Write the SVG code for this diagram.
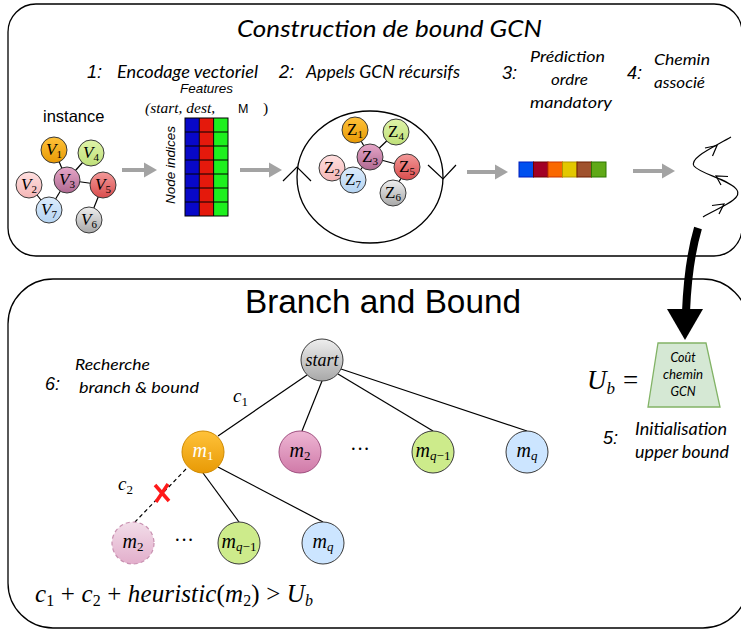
<svg xmlns="http://www.w3.org/2000/svg" width="741" height="630" viewBox="0 0 741 630">
<style>
.box{fill:#fff;stroke:#000;stroke-width:1.3}
.cal{font-family:Lato,"Open Sans",sans-serif;font-style:italic;fill:#000}
.num{font-family:"Liberation Sans",Arial,sans-serif;font-style:italic;fill:#000}
.ser{font-family:"Liberation Serif","Times New Roman",serif;fill:#000}
.it{font-style:italic}
.nd{stroke:#3a3a3a;stroke-width:1}
.e{stroke:#000;stroke-width:1.2;fill:none}
.ga{stroke:#a3a3a3;stroke-width:4;fill:none}
.gh{fill:#a3a3a3}
.chev{stroke:#000;stroke-width:1.2;fill:none}
.cell{stroke:#000;stroke-width:1}
</style>
<defs>
<linearGradient id="gO" x1="0" y1="0" x2="0" y2="1"><stop offset="0" stop-color="#ffc23a"/><stop offset="1" stop-color="#e89a05"/></linearGradient>
<linearGradient id="gG" x1="0" y1="0" x2="0" y2="1"><stop offset="0" stop-color="#dff3a8"/><stop offset="1" stop-color="#bfe07a"/></linearGradient>
<linearGradient id="gP" x1="0" y1="0" x2="0" y2="1"><stop offset="0" stop-color="#e6a6c8"/><stop offset="1" stop-color="#b06a92"/></linearGradient>
<linearGradient id="gK" x1="0" y1="0" x2="0" y2="1"><stop offset="0" stop-color="#ffe0e0"/><stop offset="1" stop-color="#f4b6b6"/></linearGradient>
<linearGradient id="gR" x1="0" y1="0" x2="0" y2="1"><stop offset="0" stop-color="#f39a9a"/><stop offset="1" stop-color="#d94c4c"/></linearGradient>
<linearGradient id="gB" x1="0" y1="0" x2="0" y2="1"><stop offset="0" stop-color="#dcecfc"/><stop offset="1" stop-color="#b5d4f2"/></linearGradient>
<linearGradient id="gY" x1="0" y1="0" x2="0" y2="1"><stop offset="0" stop-color="#eeeeee"/><stop offset="1" stop-color="#a8a8a8"/></linearGradient>
<linearGradient id="gM" x1="0" y1="0" x2="0" y2="1"><stop offset="0" stop-color="#eeb6d4"/><stop offset="1" stop-color="#d07aa8"/></linearGradient>
<linearGradient id="gD" x1="0" y1="0" x2="0" y2="1"><stop offset="0" stop-color="#f2dde9"/><stop offset="1" stop-color="#e2aecb"/></linearGradient>
</defs>

<g id="frames">
<rect class="box" x="8" y="4" width="734" height="252" rx="28"/>
<rect class="box" x="8" y="279" width="740" height="349" rx="45"/>
</g>

<g id="titles">
<text class="cal" x="237" y="37" font-size="24" textLength="305" lengthAdjust="spacingAndGlyphs">Construction de bound GCN</text>
<text x="245" y="313" font-family="Liberation Sans,Arial,sans-serif" font-size="33" textLength="276" lengthAdjust="spacingAndGlyphs">Branch and Bound</text>
</g>

<g id="step-labels">
<text class="num" x="87" y="78" font-size="18">1:</text>
<text class="cal" x="117" y="78" font-size="17" textLength="141" lengthAdjust="spacingAndGlyphs">Encodage vectoriel</text>
<text class="num" x="279" y="78" font-size="18">2:</text>
<text class="cal" x="306" y="78" font-size="17" textLength="154" lengthAdjust="spacingAndGlyphs">Appels GCN récursifs</text>
<text class="num" x="502" y="79" font-size="18">3:</text>
<text class="cal" x="530" y="62" font-size="16" textLength="75" lengthAdjust="spacingAndGlyphs">Prédiction</text>
<text class="cal" x="551" y="85" font-size="16" textLength="37" lengthAdjust="spacingAndGlyphs">ordre</text>
<text class="cal" x="530" y="108" font-size="16" textLength="82" lengthAdjust="spacingAndGlyphs">mandatory</text>
<text class="num" x="627" y="79" font-size="18">4:</text>
<text class="cal" x="654" y="65" font-size="16" textLength="56" lengthAdjust="spacingAndGlyphs">Chemin</text>
<text class="cal" x="654" y="88" font-size="16" textLength="51" lengthAdjust="spacingAndGlyphs">associé</text>
<text class="num" x="45" y="390" font-size="18">6:</text>
<text class="cal" x="75" y="370" font-size="16" textLength="75" lengthAdjust="spacingAndGlyphs">Recherche</text>
<text class="cal" x="79" y="393" font-size="16" textLength="120" lengthAdjust="spacingAndGlyphs">branch &amp; bound</text>
<text class="num" x="603" y="444" font-size="18">5:</text>
<text class="cal" x="635" y="435" font-size="17" textLength="92" lengthAdjust="spacingAndGlyphs">Initialisation</text>
<text class="cal" x="635" y="458" font-size="17" textLength="94" lengthAdjust="spacingAndGlyphs">upper bound</text>
</g>

<g id="instance">
<text x="43" y="122" font-family="Liberation Sans,Arial,sans-serif" font-size="16.5">instance</text>
<line class="e" x1="54" y1="150" x2="67" y2="180"/>
<line class="e" x1="91" y1="153" x2="67" y2="180"/>
<line class="e" x1="67" y1="180" x2="103" y2="185"/>
<line class="e" x1="67" y1="180" x2="49" y2="210"/>
<line class="e" x1="29" y1="185" x2="49" y2="210"/>
<line class="e" x1="103" y1="185" x2="89" y2="220"/>
<g id="V1"><circle class="nd" cx="54" cy="150" r="13" fill="url(#gO)"/><text class="ser" x="54" y="155" font-size="17" text-anchor="middle"><tspan class="it">V</tspan><tspan font-size="11" dy="3">1</tspan></text></g>
<g id="V4"><circle class="nd" cx="91" cy="153" r="13" fill="url(#gG)"/><text class="ser" x="91" y="158" font-size="17" text-anchor="middle"><tspan class="it">V</tspan><tspan font-size="11" dy="3">4</tspan></text></g>
<g id="V3"><circle class="nd" cx="67" cy="180" r="13" fill="url(#gP)"/><text class="ser" x="67" y="185" font-size="17" text-anchor="middle"><tspan class="it">V</tspan><tspan font-size="11" dy="3">3</tspan></text></g>
<g id="V2"><circle class="nd" cx="29" cy="185" r="13" fill="url(#gK)"/><text class="ser" x="29" y="190" font-size="17" text-anchor="middle"><tspan class="it">V</tspan><tspan font-size="11" dy="3">2</tspan></text></g>
<g id="V5"><circle class="nd" cx="103" cy="185" r="13" fill="url(#gR)"/><text class="ser" x="103" y="190" font-size="17" text-anchor="middle"><tspan class="it">V</tspan><tspan font-size="11" dy="3">5</tspan></text></g>
<g id="V7"><circle class="nd" cx="49" cy="210" r="13" fill="url(#gB)"/><text class="ser" x="49" y="215" font-size="17" text-anchor="middle"><tspan class="it">V</tspan><tspan font-size="11" dy="3">7</tspan></text></g>
<g id="V6"><circle class="nd" cx="89" cy="220" r="13" fill="url(#gY)"/><text class="ser" x="89" y="225" font-size="17" text-anchor="middle"><tspan class="it">V</tspan><tspan font-size="11" dy="3">6</tspan></text></g>
</g>

<g id="matrix">
<text class="num" x="180" y="93" font-size="13" textLength="53" lengthAdjust="spacingAndGlyphs">Features</text>
<text class="ser it" x="145" y="113" font-size="15.5">(start, dest,</text>
<text x="238" y="113" font-family="Liberation Sans,Arial,sans-serif" font-size="12.5">M</text>
<text class="ser" x="263" y="113" font-size="15.5">)</text>
<text class="num" transform="translate(175,165) rotate(-90)" font-size="13.5" text-anchor="middle">Node indices</text>
<rect x="185" y="118" width="14.3" height="98" fill="#0808c8"/>
<rect x="199.3" y="118" width="14.3" height="98" fill="#e4190c"/>
<rect x="213.6" y="118" width="14.4" height="98" fill="#1ef01e"/>
<g class="cell">
<rect x="185" y="118" width="43" height="98" fill="none"/>
<line x1="199.3" y1="118" x2="199.3" y2="216"/>
<line x1="213.6" y1="118" x2="213.6" y2="216"/>
<line x1="185" y1="132" x2="228" y2="132"/>
<line x1="185" y1="146" x2="228" y2="146"/>
<line x1="185" y1="160" x2="228" y2="160"/>
<line x1="185" y1="174" x2="228" y2="174"/>
<line x1="185" y1="188" x2="228" y2="188"/>
<line x1="185" y1="202" x2="228" y2="202"/>
</g>
</g>

<g id="gcn">
<ellipse cx="370" cy="177" rx="73" ry="66" fill="none" stroke="#000" stroke-width="1.3"/>
<path class="chev" d="M283,181 L297,167 L311,181"/>
<path class="chev" d="M428,165 L443,179 L456,165"/>
<line class="e" x1="355" y1="130" x2="370" y2="157"/>
<line class="e" x1="396" y1="132" x2="370" y2="157"/>
<line class="e" x1="370" y1="157" x2="407" y2="167"/>
<line class="e" x1="370" y1="157" x2="353" y2="180"/>
<line class="e" x1="332" y1="168" x2="353" y2="180"/>
<line class="e" x1="407" y1="167" x2="393" y2="193"/>
<g id="Z1"><circle class="nd" cx="355" cy="130" r="13" fill="url(#gO)"/><text class="ser" x="355" y="135" font-size="17" text-anchor="middle">Z<tspan font-size="11" dy="3">1</tspan></text></g>
<g id="Z4"><circle class="nd" cx="396" cy="132" r="13" fill="url(#gG)"/><text class="ser" x="396" y="137" font-size="17" text-anchor="middle">Z<tspan font-size="11" dy="3">4</tspan></text></g>
<g id="Z3"><circle class="nd" cx="370" cy="157" r="13" fill="url(#gP)"/><text class="ser" x="370" y="162" font-size="17" text-anchor="middle">Z<tspan font-size="11" dy="3">3</tspan></text></g>
<g id="Z2"><circle class="nd" cx="332" cy="168" r="13" fill="url(#gK)"/><text class="ser" x="332" y="173" font-size="17" text-anchor="middle">Z<tspan font-size="11" dy="3">2</tspan></text></g>
<g id="Z5"><circle class="nd" cx="407" cy="167" r="13" fill="url(#gR)"/><text class="ser" x="407" y="172" font-size="17" text-anchor="middle">Z<tspan font-size="11" dy="3">5</tspan></text></g>
<g id="Z7"><circle class="nd" cx="353" cy="180" r="13" fill="url(#gB)"/><text class="ser" x="353" y="185" font-size="17" text-anchor="middle">Z<tspan font-size="11" dy="3">7</tspan></text></g>
<g id="Z6"><circle class="nd" cx="393" cy="193" r="13" fill="url(#gY)"/><text class="ser" x="393" y="198" font-size="17" text-anchor="middle">Z<tspan font-size="11" dy="3">6</tspan></text></g>
</g>

<g id="order">
<rect x="519" y="162" width="14.5" height="15" fill="#0050ef" stroke="#001dbc"/>
<rect x="533.5" y="162" width="14.5" height="15" fill="#a20025" stroke="#6f0000"/>
<rect x="548" y="162" width="14.5" height="15" fill="#fa6800" stroke="#c73500"/>
<rect x="562.5" y="162" width="14.5" height="15" fill="#e3c800" stroke="#b09500"/>
<rect x="577" y="162" width="14.5" height="15" fill="#a0522d" stroke="#6d1f00"/>
<rect x="591.5" y="162" width="14.5" height="15" fill="#60a917" stroke="#2d7600"/>
</g>

<g id="path4">
<path class="chev" d="M703,217 C720,207 743,199 737,190 C731,180 700,174 694,166 C689,158 712,148 731,137"/>
<path class="chev" d="M712,205.5 L724,204 L719,214"/>
<path class="chev" d="M721,185 L716,176 L728,176.5"/>
<path class="chev" d="M705,148 L717,145.5 L712.5,156"/>
</g>

<g id="cost">
<polygon points="658,343 706,343 720,407 648,407" fill="#d5e8d4" stroke="#82b366" stroke-width="1.3"/>
<text class="cal" x="683" y="362" font-size="12.5" text-anchor="middle">Coût</text>
<text class="cal" x="683" y="379" font-size="12.5" text-anchor="middle" textLength="40" lengthAdjust="spacingAndGlyphs">chemin</text>
<text class="cal" x="683" y="396" font-size="12.5" text-anchor="middle">GCN</text>
<text class="ser" x="587" y="389" font-size="27"><tspan class="it">U</tspan><tspan class="it" font-size="17" dy="5">b</tspan><tspan dy="-5" dx="8">=</tspan></text>
</g>

<g id="connectors">
<line class="ga" x1="122" y1="170" x2="146" y2="170"/><polygon class="gh" points="144,162.5 157,170 144,177.5"/>
<line class="ga" x1="240" y1="170" x2="271" y2="170"/><polygon class="gh" points="269,162.5 282,170 269,177.5"/>
<line class="ga" x1="467" y1="172" x2="497" y2="172"/><polygon class="gh" points="495,164.5 508,172 495,179.5"/>
<line class="ga" x1="633" y1="171" x2="664" y2="171"/><polygon class="gh" points="662,163.5 675,171 662,178.5"/>
<path d="M698,228 Q688,262 686,312" fill="none" stroke="#000" stroke-width="8"/>
<polygon points="667,309 703,309 685,340" fill="#000"/>
<line class="e" x1="307" y1="375" x2="218" y2="436"/>
<line class="e" x1="322" y1="381" x2="302" y2="431"/>
<line class="e" x1="338" y1="374" x2="433" y2="431"/>
<line class="e" x1="341" y1="369" x2="527" y2="431"/>
<line class="e" x1="203" y1="473" x2="239" y2="522"/>
<line class="e" x1="218" y1="467" x2="323" y2="522"/>
<line x1="186" y1="469" x2="135" y2="522" stroke="#000" stroke-width="1.2" stroke-dasharray="4,3"/>
<path d="M155,485 L169,501 M168,484 L156,502" stroke="#ff1a1a" stroke-width="3.5" fill="none"/>
</g>

<g id="tree">
<text class="ser it" x="233" y="402" font-size="19">c<tspan font-style="normal" font-size="13" dy="4">1</tspan></text>
<text class="ser it" x="118" y="490" font-size="19">c<tspan font-style="normal" font-size="13" dy="4">2</tspan></text>
<g id="start"><circle class="nd" cx="322" cy="360" r="21" fill="url(#gY)"/><text class="ser it" x="322" y="366" font-size="18" text-anchor="middle">start</text></g>
<g id="m1"><circle cx="203" cy="452" r="21" fill="url(#gO)" stroke="#d08a00" stroke-width="1"/><text class="ser" x="203" y="457" font-size="20" text-anchor="middle" fill="#fff"><tspan class="it" fill="#fff">m</tspan><tspan font-size="13" dy="3" fill="#fff">1</tspan></text></g>
<g id="m2"><circle cx="300" cy="452" r="21" fill="url(#gM)" stroke="#a05080" stroke-width="1"/><text class="ser" x="300" y="457" font-size="20" text-anchor="middle"><tspan class="it">m</tspan><tspan font-size="13" dy="3">2</tspan></text></g>
<text class="ser" x="360" y="456" font-size="20" text-anchor="middle">···</text>
<g id="mq1"><circle class="nd" cx="433" cy="452" r="21" fill="#cdeb8b"/><text class="ser" x="433" y="457" font-size="20" text-anchor="middle"><tspan class="it">m</tspan><tspan class="it" font-size="13" dy="3">q</tspan><tspan font-size="13">−1</tspan></text></g>
<g id="mq"><circle class="nd" cx="527" cy="452" r="21" fill="#cce5ff"/><text class="ser" x="527" y="457" font-size="20" text-anchor="middle"><tspan class="it">m</tspan><tspan class="it" font-size="13" dy="3">q</tspan></text></g>
<g id="m2b"><circle cx="133" cy="543" r="21" fill="url(#gD)" stroke="#c890b0" stroke-width="1.2" stroke-dasharray="4,3"/><text class="ser" x="133" y="548" font-size="20" text-anchor="middle"><tspan class="it">m</tspan><tspan font-size="13" dy="3">2</tspan></text></g>
<text class="ser" x="184" y="547" font-size="20" text-anchor="middle">···</text>
<g id="mq1b"><circle class="nd" cx="239" cy="543" r="21" fill="#cdeb8b"/><text class="ser" x="239" y="548" font-size="20" text-anchor="middle"><tspan class="it">m</tspan><tspan class="it" font-size="13" dy="3">q</tspan><tspan font-size="13">−1</tspan></text></g>
<g id="mqb"><circle class="nd" cx="323" cy="543" r="21" fill="#cce5ff"/><text class="ser" x="323" y="548" font-size="20" text-anchor="middle"><tspan class="it">m</tspan><tspan class="it" font-size="13" dy="3">q</tspan></text></g>
</g>

<g id="formula">
<text class="ser" x="35" y="602" font-size="25" textLength="278" lengthAdjust="spacing"><tspan class="it">c</tspan><tspan font-size="16" dy="4">1</tspan><tspan dy="-4"> + </tspan><tspan class="it">c</tspan><tspan font-size="16" dy="4">2</tspan><tspan dy="-4"> + </tspan><tspan class="it">heuristic</tspan>(<tspan class="it">m</tspan><tspan font-size="16" dy="4">2</tspan><tspan dy="-4">) &gt; </tspan><tspan class="it">U</tspan><tspan class="it" font-size="16" dy="4">b</tspan></text>
</g>
</svg>
